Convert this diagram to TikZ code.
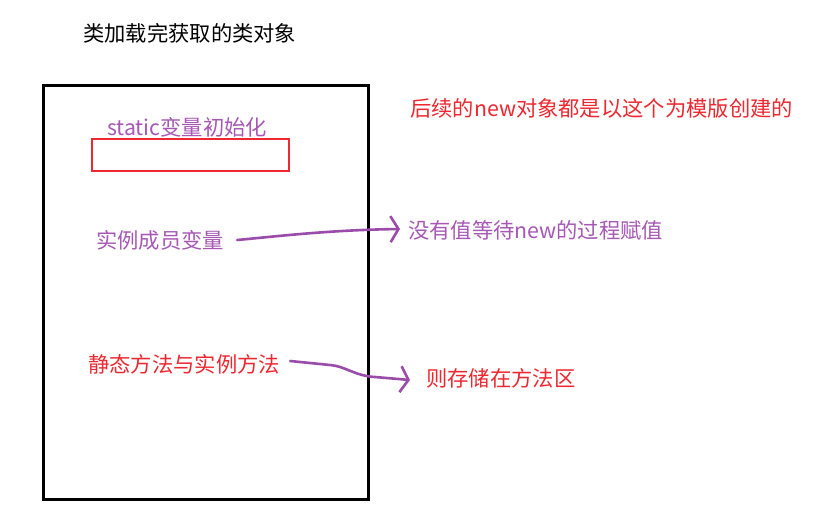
\documentclass[tikz,border=0pt]{standalone}
\usepackage{fontspec}
\setmainfont{Noto Sans CJK SC}
\usetikzlibrary{arrows.meta}
\definecolor{ppl}{RGB}{166,88,180}
\definecolor{pline}{RGB}{155,75,170}
\definecolor{rd}{RGB}{238,40,48}
\tikzset{
  lbl/.style={inner sep=0pt, anchor=west, font=\fontsize{21.3}{25}\selectfont},
  hand/.style={pline, line width=2.6pt, line cap=round, line join=round,
    -{Straight Barb[length=8pt,width=26pt,line width=2.6pt]}},
}
\begin{document}
\begin{tikzpicture}[x=1pt,y=-1pt]
\useasboundingbox (0,0) rectangle (827,507);
\fill[white] (0,0) rectangle (827,507);
\node[lbl, text=black] (title) at (83,33) {类加载完获取的类对象};
\draw[black, line width=3pt] (43,85) rectangle (368,499);
\node[lbl, text=ppl] (static) at (107,127) {static变量初始化};
\draw[rd, line width=2.5pt] (92,139) rectangle (289,171);
\node[lbl, text=ppl] (member) at (96,240) {实例成员变量};
\node[lbl, text=rd] (methods) at (88,364) {静态方法与实例方法};
\node[lbl, text=rd] (tmpl) at (410,108) {后续的new对象都是以这个为模版创建的};
\node[lbl, text=ppl] (noval) at (408,230) {没有值等待new的过程赋值};
\node[lbl, text=rd] (store) at (426,378) {则存储在方法区};
\coordinate (a1s) at ([xshift=13pt]member.east);
\coordinate (a1e) at ([xshift=-8pt,yshift=1pt]noval.west);
\draw[hand] (a1s) .. controls (280,236) and (330,230) .. (a1e);
\coordinate (a2s) at ([xshift=10pt,yshift=3pt]methods.east);
\coordinate (a2e) at ([xshift=-16pt,yshift=-2pt]store.west);
\draw[hand] (a2s) -- (330,365) .. controls (345,366) and (355,376) .. (375,377) -- (a2e);
\end{tikzpicture}
\end{document}
